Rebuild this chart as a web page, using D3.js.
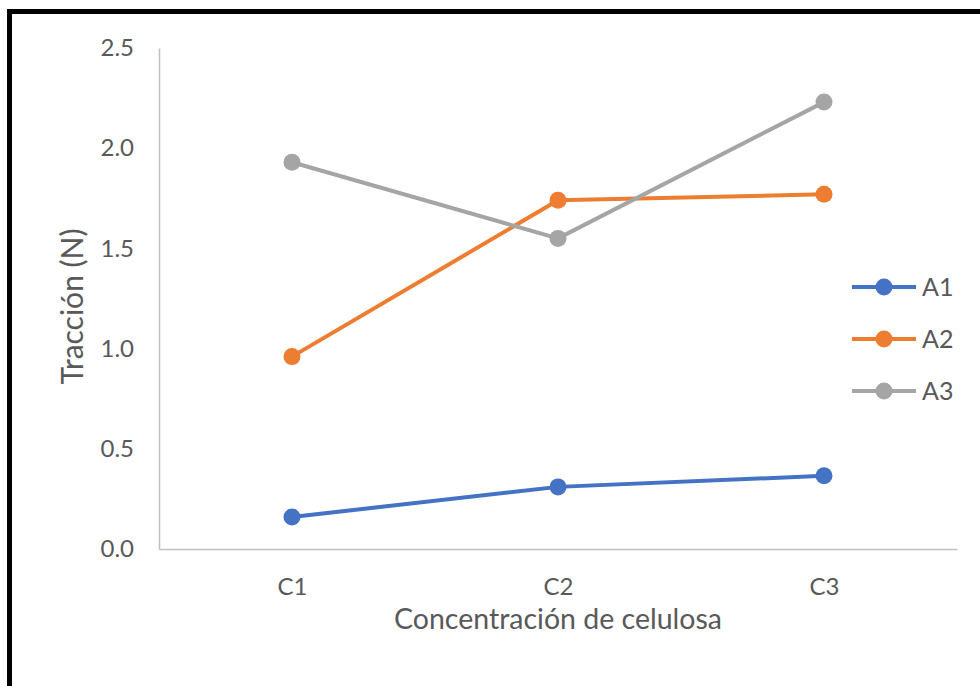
<!DOCTYPE html>
<html>
<head>
<meta charset="utf-8">
<script src="https://cdn.jsdelivr.net/npm/d3@7"></script>
<style>
  body { margin: 0; background: #fff; }
  svg text { font-family: Lato, "Open Sans", sans-serif; fill: #595959; }
</style>
</head>
<body>
<div id="chart"></div>
<script>
// ===== Data =====
const categories = ["C1", "C2", "C3"];
const seriesNames = ["A1", "A2", "A3"];
const valuesA1 = [0.16, 0.31, 0.365];
const valuesA2 = [0.96, 1.74, 1.77];
const valuesA3 = [1.93, 1.55, 2.23];
const yTicks = [0, 0.5, 1, 1.5, 2, 2.5];
const colors = ["#4472C4", "#ED7D31", "#A5A5A5"];

const series = [valuesA1, valuesA2, valuesA3].map((vals, i) => ({
  name: seriesNames[i],
  color: colors[i],
  points: vals.map((v, j) => ({ cat: categories[j], value: v }))
}));

// ===== Chart =====
const W = 980, H = 686;
const margin = { top: 48, right: 23, bottom: 137, left: 159 };
const width = W - margin.left - margin.right;
const height = H - margin.top - margin.bottom;

const svg = d3.select("#chart").append("svg")
  .attr("width", W)
  .attr("height", H);

// frame (top and left edges only, as in the picture)
svg.append("rect").attr("x", 7).attr("y", 9).attr("width", W - 7).attr("height", 5).attr("fill", "#000");
svg.append("rect").attr("x", 7).attr("y", 9).attr("width", 5).attr("height", H - 9).attr("fill", "#000");

const g = svg.append("g").attr("transform", `translate(${margin.left},${margin.top})`);

const x = d3.scalePoint()
  .domain(categories)
  .range([0, width])
  .padding(0.5);

const y = d3.scaleLinear()
  .domain([0, 2.5])
  .range([height, 0]);

// Y axis
const yAxis = g.append("g")
  .call(d3.axisLeft(y).tickValues(yTicks).tickSize(0).tickPadding(25).tickFormat(d3.format(".1f")));
yAxis.select(".domain").attr("stroke", "#BFBFBF").attr("stroke-width", 1.5);
yAxis.selectAll("text").style("font-size", "24px").attr("fill", "#595959");

// X axis
const xAxis = g.append("g")
  .attr("transform", `translate(0,${height})`)
  .call(d3.axisBottom(x).tickSize(0).tickPadding(29));
xAxis.select(".domain").attr("stroke", "#BFBFBF").attr("stroke-width", 1.5);
xAxis.selectAll("text").style("font-size", "24px").attr("fill", "#595959");

// Axis titles
svg.append("text")
  .attr("x", margin.left + width / 2)
  .attr("y", 629)
  .attr("text-anchor", "middle")
  .style("font-size", "28.5px")
  .text("Concentración de celulosa");

svg.append("text")
  .attr("transform", `translate(83,${margin.top + height / 2 + 8}) rotate(-90)`)
  .attr("text-anchor", "middle")
  .style("font-size", "30px")
  .text("Tracción (N)");

// Lines
const line = d3.line()
  .x(d => x(d.cat))
  .y(d => y(d.value));

series.forEach(s => {
  g.append("path")
    .datum(s.points)
    .attr("fill", "none")
    .attr("stroke", s.color)
    .attr("stroke-width", 4)
    .attr("stroke-linejoin", "round")
    .attr("d", line);

  g.selectAll(null)
    .data(s.points)
    .enter()
    .append("circle")
    .attr("cx", d => x(d.cat))
    .attr("cy", d => y(d.value))
    .attr("r", 8.5)
    .attr("fill", s.color);
});

// Legend
const legend = svg.append("g").attr("transform", "translate(852,287)");
series.forEach((s, i) => {
  const item = legend.append("g").attr("transform", `translate(0,${i * 52})`);
  item.append("line")
    .attr("x1", 0).attr("x2", 64)
    .attr("y1", 0).attr("y2", 0)
    .attr("stroke", s.color)
    .attr("stroke-width", 4);
  item.append("circle")
    .attr("cx", 32).attr("cy", 0).attr("r", 8.5)
    .attr("fill", s.color);
  item.append("text")
    .attr("x", 70).attr("y", 0)
    .attr("dy", "0.35em")
    .style("font-size", "25px")
    .text(s.name);
});
</script>
</body>
</html>
